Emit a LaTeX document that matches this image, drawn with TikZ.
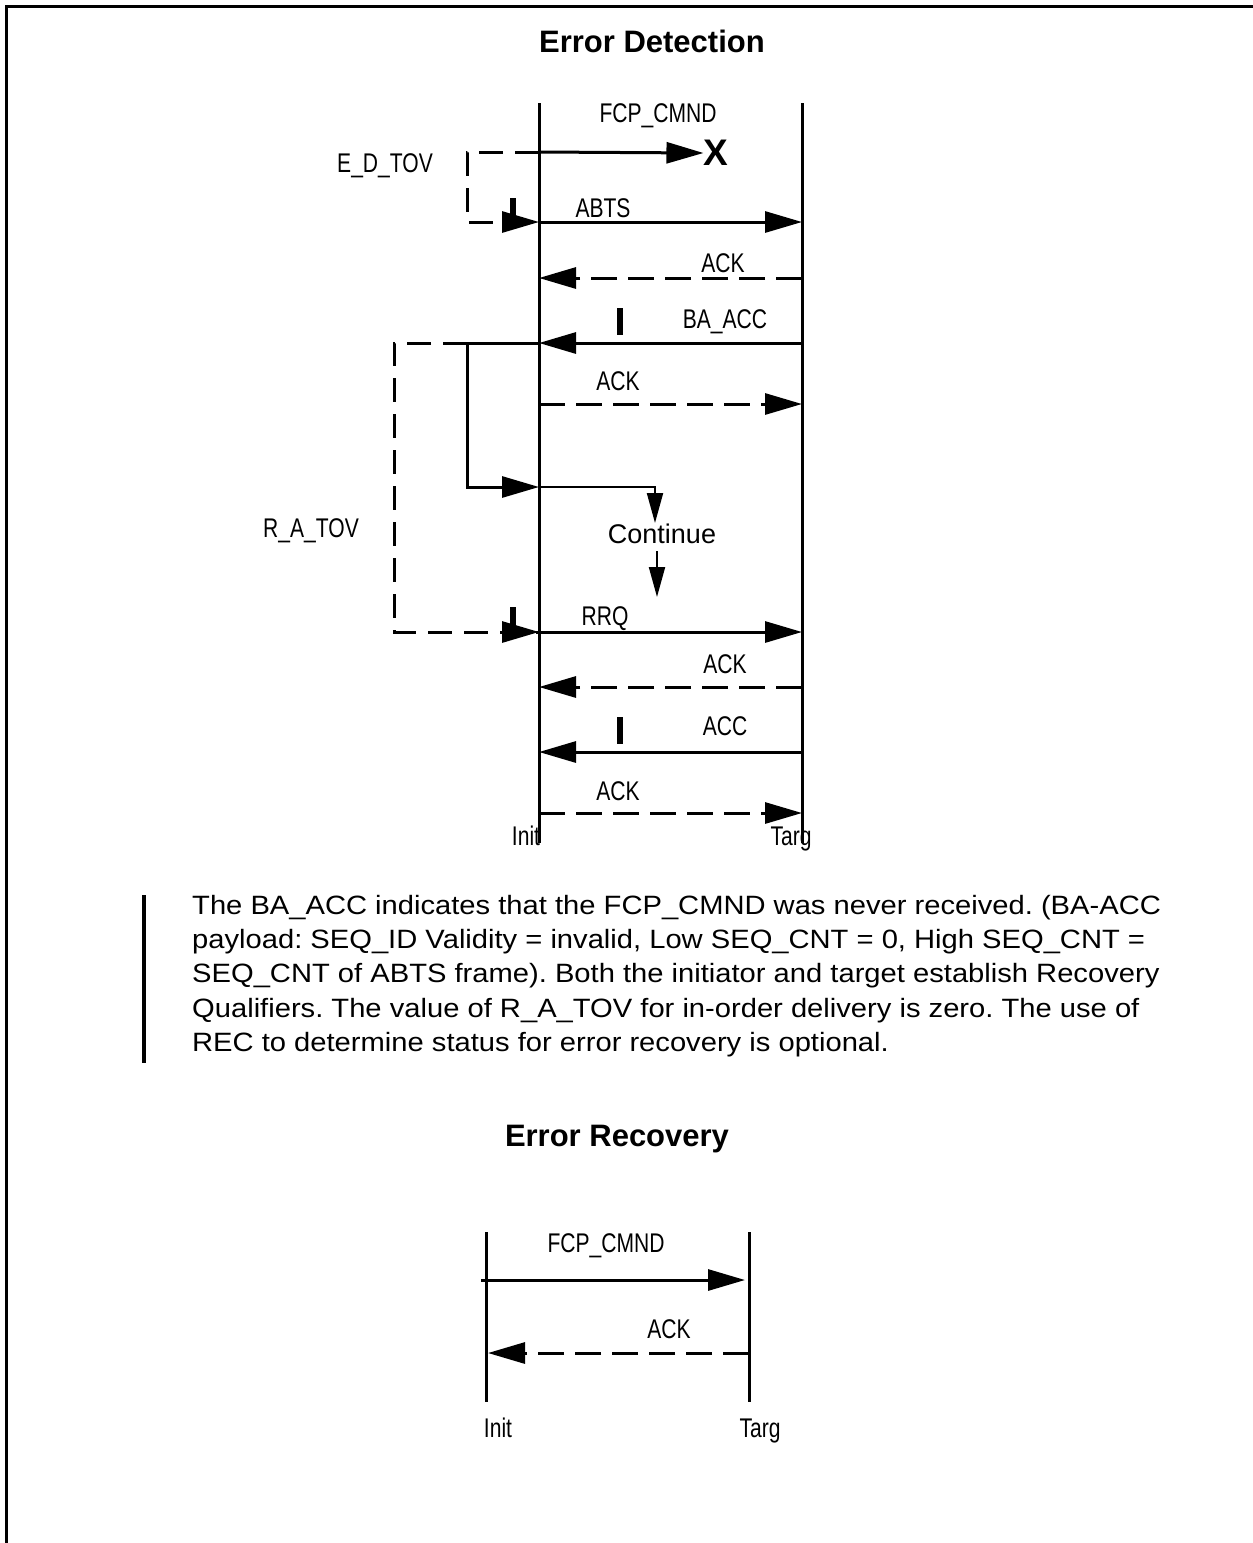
\documentclass[tikz,border=0pt]{standalone}
\usepackage{fontspec}
\setmainfont{Liberation Sans}
\newfontfamily\narrowfont[FakeStretch=0.78]{Liberation Sans}
\newfontfamily\bodyfont[FakeStretch=1.1]{Liberation Sans}
\usepackage{tikz}
\usetikzlibrary{arrows.meta}
\tikzset{
  lifeline/.style={line width=3pt},
  msg/.style={line width=3pt, -{Triangle[length=37pt,width=21pt]}},
  ackmsg/.style={msg, dash pattern=on 26pt off 11pt},
  timer/.style={line width=3pt, dash pattern=on 24pt off 12pt},
  thinarrow/.style={line width=2pt, -{Triangle[length=30pt,width=16pt]}},
  tickmark/.style={line width=6pt},
  lbl/.style={inner sep=0pt, anchor=base, font=\narrowfont\fontsize{27}{32}\selectfont},
  heading/.style={inner sep=0pt, anchor=base, font=\bfseries\fontsize{31}{36}\selectfont}
}
\frenchspacing
\begin{document}
\begin{tikzpicture}[x=1pt,y=-1pt]
  \useasboundingbox (0,0) rectangle (1253,1543);
  % frame
  \draw[line width=3pt] (6,1543) -- (6,6) -- (1253,6);

  % ---------------- Error Detection ----------------
  \node[heading] (titleDet) at (652,52) {Error Detection};
  \coordinate (initTop) at (539,103);
  \coordinate (initBot) at (539,843);
  \coordinate (targTop) at (802,103);
  \coordinate (targBot) at (802,843);
  \draw[lifeline] (initTop) -- (initBot);
  \draw[lifeline] (targTop) -- (targBot);
  \node[lbl] (init) at (526,845) {Init};
  \node[lbl] (targ) at (791,845) {Targ};

  \foreach \n/\y in {cmnd/152,abts/222,ackA/278,bacc/343,ackB/404,cont/487,rrq/632,ackC/687,acc/752,ackD/813}{
    \coordinate (\n-i) at (539,\y);
    \coordinate (\n-t) at (802,\y);
  }

  % lost command
  \node[inner sep=0pt, font=\bfseries\fontsize{37}{37}\selectfont] (lost) at (716,153) {X};
  \draw[msg] (cmnd-i) -- (lost.west);
  \node[lbl] (lCmnd) at (658,122) {FCP\_CMND};

  % E_D_TOV
  \coordinate (edA) at (467,152);
  \coordinate (edB) at (467,222);
  \draw[timer] (cmnd-i) -- (edA) -- (edB) -- (abts-i);
  \draw[line width=3pt, -{Triangle[length=37pt,width=21pt]}] (edB) ++(40,0) -- (abts-i);
  \node[lbl] (lEd) at (385,172) {E\_D\_TOV};
  \draw[tickmark] (513,198) -- (513,222);

  \draw[msg] (abts-i) -- (abts-t);
  \node[lbl] (lAbts) at (603,217) {ABTS};
  \draw[ackmsg] (ackA-t) -- (ackA-i);
  \node[lbl] (lAckA) at (723,272) {ACK};
  \draw[msg] (bacc-t) -- (bacc-i);
  \node[lbl] (lBacc) at (725,328) {BA\_ACC};
  \draw[tickmark] (620,308) -- (620,335);
  \draw[ackmsg] (ackB-i) -- (ackB-t);
  \node[lbl] (lAckB) at (618,390) {ACK};

  % R_A_TOV
  \coordinate (raA) at (467,343);
  \coordinate (raB) at (394,343);
  \coordinate (raC) at (394,632);
  \coordinate (raD) at (467,487);
  \draw[timer] (raA) -- (raB) -- (raC) -- (rrq-i);
  \draw[line width=3pt, -{Triangle[length=37pt,width=21pt]}] (raC) ++(110,0) -- (rrq-i);
  \draw[msg] (bacc-i) -- (raA) -- (raD) -- (cont-i);
  \node[lbl] (lRa) at (311,537) {R\_A\_TOV};
  \draw[tickmark] (513,607) -- (513,630);

  % continue
  \coordinate (contA) at (655,487);
  \coordinate (contB) at (655,523);
  \coordinate (contC) at (657,551);
  \coordinate (contD) at (657,597);
  \draw[thinarrow] (cont-i) -- (contA) -- (contB);
  \node[inner sep=0pt, anchor=base, font=\fontsize{27}{30}\selectfont] (lCont) at (662,543) {Continue};
  \draw[thinarrow] (contC) -- (contD);

  \draw[msg] (rrq-i) -- (rrq-t);
  \node[lbl] (lRrq) at (605,625) {RRQ};
  \draw[ackmsg] (ackC-t) -- (ackC-i);
  \node[lbl] (lAckC) at (725,673) {ACK};
  \draw[msg] (acc-t) -- (acc-i);
  \node[lbl] (lAcc) at (725,735) {ACC};
  \draw[tickmark] (620,717) -- (620,744);
  \draw[ackmsg] (ackD-i) -- (ackD-t);
  \node[lbl] (lAckD) at (618,800) {ACK};

  % note
  \draw[line width=4.5pt] (144,895) -- (144,1063);
  \node[anchor=north west, inner sep=0pt, align=left,
    font=\bodyfont\fontsize{26.5}{34.2}\selectfont] (note) at (192,895) {%
    The BA\_ACC indicates that the FCP\_CMND was never received. (BA-ACC\\
    payload: SEQ\_ID Validity = invalid, Low SEQ\_CNT = 0, High SEQ\_CNT =\\
    SEQ\_CNT of ABTS frame). Both the initiator and target establish Recovery\\
    Qualifiers. The value of R\_A\_TOV for in-order delivery is zero. The use of\\
    REC to determine status for error recovery is optional.};

  % ---------------- Error Recovery ----------------
  \node[heading] (titleRec) at (617,1146) {Error Recovery};
  \coordinate (init2Top) at (486,1232);
  \coordinate (init2Bot) at (486,1402);
  \coordinate (targ2Top) at (749,1232);
  \coordinate (targ2Bot) at (749,1402);
  \draw[lifeline] (init2Top) -- (init2Bot);
  \draw[lifeline] (targ2Top) -- (targ2Bot);
  \coordinate (cmnd2-i) at (481,1280);
  \coordinate (cmnd2-t) at (745,1280);
  \coordinate (ack2-i) at (488,1353);
  \coordinate (ack2-t) at (749,1353);
  \draw[msg] (cmnd2-i) -- (cmnd2-t);
  \node[lbl] (lCmnd2) at (606,1252) {FCP\_CMND};
  \draw[ackmsg] (ack2-t) -- (ack2-i);
  \node[lbl] (lAck2) at (669,1338) {ACK};
  \node[lbl] (init2) at (498,1437) {Init};
  \node[lbl] (targ2) at (760,1437) {Targ};
\end{tikzpicture}
\end{document}
